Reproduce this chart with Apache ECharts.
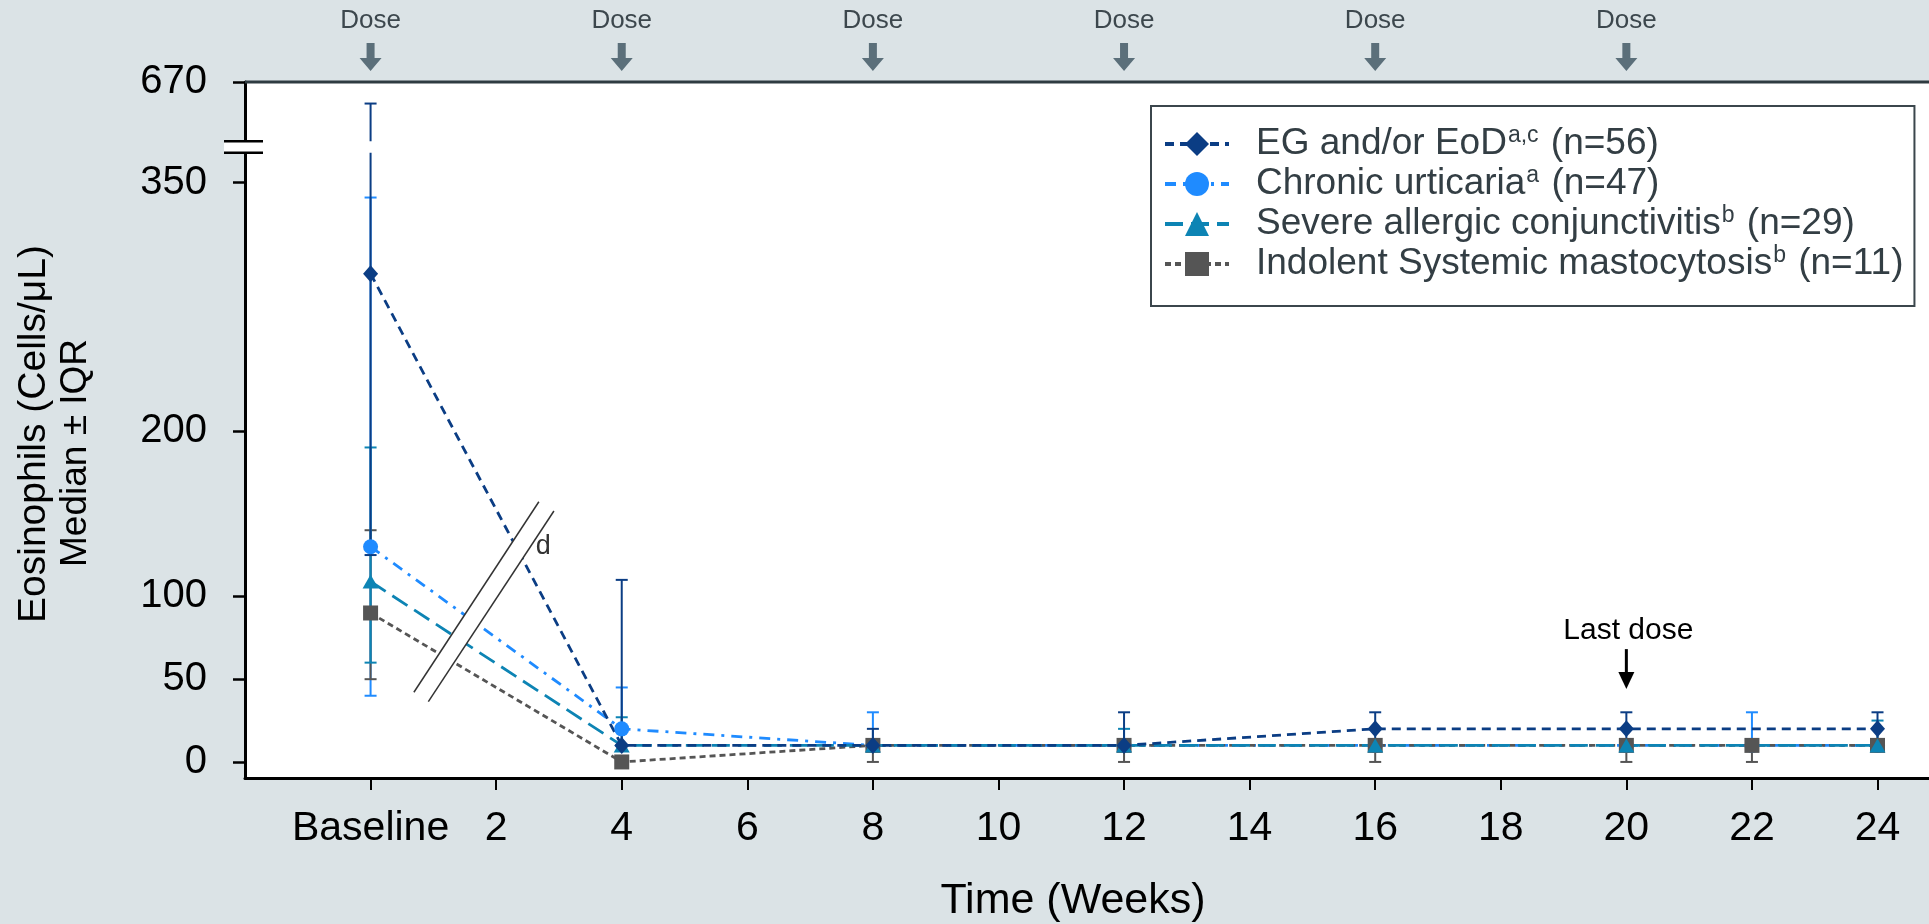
<!DOCTYPE html>
<html>
<head>
<meta charset="utf-8">
<script src="https://cdn.jsdelivr.net/npm/echarts@6/dist/echarts.min.js"></script>
<style>
  html, body { margin: 0; padding: 0; background: #dbe3e6; }
  #container { width: 1929px; height: 924px; }
</style>
</head>
<body>
<div id="container"></div>
<script>
// groups (legend order)
const groupNames = ['EG and/or EoD', 'Chronic urticaria', 'Severe allergic conjunctivitis', 'Indolent Systemic mastocytosis']
const groupSup = ['a,c', 'a', 'b', 'b']
const groupN = [56, 47, 29, 11]

// weeks with measurements, median, Q1, Q3 (cells/uL)
const weeksEG = [0, 4, 8, 12, 16, 20, 24]
const medEG = [295, 10, 10, 10, 20, 20, 20]
const q1EG = [125, 10, 10, 10, 10, 10, 10]
const q3EG = [630, 110, 20, 30, 30, 30, 30]

const weeksCU = [0, 4, 8, 12, 16, 20, 22, 24]
const medCU = [130, 20, 10, 10, 10, 10, 10, 10]
const q1CU = [40, 10, 10, 10, 10, 10, 10, 10]
const q3CU = [341, 45, 30, 10, 10, 10, 30, 10]

const weeksSAC = [0, 4, 8, 12, 16, 20, 24]
const medSAC = [109, 10, 10, 10, 10, 10, 10]
const q1SAC = [60, 10, 10, 10, 10, 10, 10]
const q3SAC = [190, 27, 10, 20, 10, 10, 25]

const weeksISM = [0, 4, 8, 12, 16, 20, 22, 24]
const medISM = [90, 0, 10, 10, 10, 10, 10, 10]
const q1ISM = [50, 0, 0, 0, 0, 0, 0, 10]
const q3ISM = [140, 0, 10, 10, 10, 10, 10, 10]

// axis ticks
const xTicks = [0, 2, 4, 6, 8, 10, 12, 14, 16, 18, 20, 22, 24]
const yTicks = [0, 50, 100, 200, 350, 670]
const doseWeeks = [0, 4, 8, 12, 16, 20]
const lastDoseWeek = 20

const FONT = "'Liberation Sans', Arial, sans-serif"

// broken y axis: linear up to BREAK_LO, compressed upper part 560-670
const BREAK_LO = 368
const BREAK_HI = 375
const UP_FROM = 560
const UP_TO = 670
const UP_SPAN = 35.8
function ty (v) {
  return v <= BREAK_LO ? v : BREAK_HI + (v - UP_FROM) * UP_SPAN / (UP_TO - UP_FROM)
}
function untY (t) {
  return t <= BREAK_LO ? t : Math.round(UP_FROM + (t - BREAK_HI) * (UP_TO - UP_FROM) / UP_SPAN)
}
const Y_MIN = -9.7
const Y_MAX = ty(UP_TO)
const X_MIN = -2
const X_MAX = 24.82

const colors = ['#0b3d84', '#1f8bff', '#0d84b4', '#555555']
const dashes = [[9, 6], [11, 7, 3, 7], [18, 8], [6, 4]]
const symbols = ['diamond', 'circle', 'triangle', 'rect']
const symbolSizes = [[15, 17], 15, [16, 14], 15]

const groups = [
  { weeks: weeksEG, med: medEG, q1: q1EG, q3: q3EG },
  { weeks: weeksCU, med: medCU, q1: q1CU, q3: q3CU },
  { weeks: weeksSAC, med: medSAC, q1: q1SAC, q3: q3SAC },
  { weeks: weeksISM, med: medISM, q1: q1ISM, q3: q3ISM }
]
// drawing order bottom -> top: CU, ISM, SAC, EG
const drawOrder = [1, 3, 2, 0]

function errorBarSeries (gi) {
  const g = groups[gi]
  return {
    type: 'custom',
    name: groupNames[gi] + ' IQR',
    z: 2,
    data: g.weeks.map((w, i) => [w, ty(g.q1[i]), ty(g.q3[i])]),
    encode: { x: 0, y: [1, 2] },
    renderItem: (params, api) => {
      const x = api.value(0)
      const lo = api.value(1)
      const hi = api.value(2)
      const segs = (hi > BREAK_HI && lo < BREAK_LO) ? [[lo, BREAK_LO], [BREAK_HI, hi]] : [[lo, hi]]
      const style = { stroke: colors[gi], lineWidth: 2 }
      const children = segs.map(s => {
        const a = api.coord([x, s[0]])
        const b = api.coord([x, s[1]])
        return { type: 'line', shape: { x1: a[0], y1: a[1], x2: b[0], y2: b[1] }, style }
      })
      ;[lo, hi].forEach(v => {
        const p = api.coord([x, v])
        children.push({ type: 'line', shape: { x1: p[0] - 6, y1: p[1], x2: p[0] + 6, y2: p[1] }, style })
      })
      return { type: 'group', children }
    }
  }
}

function lineSeries (gi) {
  const g = groups[gi]
  return {
    type: 'line',
    name: groupNames[gi],
    z: 3,
    data: g.weeks.map((w, i) => [w, ty(g.med[i])]),
    symbol: symbols[gi],
    symbolSize: symbolSizes[gi],
    showAllSymbol: true,
    color: colors[gi],
    itemStyle: { color: colors[gi] },
    lineStyle: { color: colors[gi], width: 2.8, type: dashes[gi] }
  }
}

const option = {
  backgroundColor: '#dbe3e6',
  animation: false,
  textStyle: { fontFamily: FONT },
  grid: {
    left: 245, right: 0, top: 82, bottom: 146,
    show: true, backgroundColor: '#ffffff', borderWidth: 0,
    outerBoundsMode: 'none'
  },
  legend: {
    data: groupNames,
    orient: 'vertical',
    left: 1151,
    top: 106,
    padding: [18, 11, 22, 12],
    itemGap: 0,
    itemWidth: 64,
    itemHeight: 30,
    borderColor: '#3b464c',
    borderWidth: 2,
    backgroundColor: '#ffffff',
    lineStyle: { width: 4 },
    textStyle: {
      fontFamily: FONT, fontSize: 37, color: '#333e44', lineHeight: 40,
      padding: [0, 0, 0, 22],
      rich: {
        t: { fontFamily: FONT, fontSize: 37, color: '#333e44', lineHeight: 40 },
        s: { fontFamily: FONT, fontSize: 23, color: '#333e44', verticalAlign: 'top', lineHeight: 40, padding: [0, 2, 0, 1] }
      }
    },
    formatter: name => {
      const i = groupNames.indexOf(name)
      return '{t|' + name + '}{s|' + groupSup[i] + '}{t| (n=' + groupN[i] + ')}'
    }
  },
  xAxis: {
    type: 'value',
    min: X_MIN,
    max: X_MAX,
    axisLine: { show: true, onZero: false, lineStyle: { color: '#000', width: 3 } },
    axisTick: { show: true, length: 12, lineStyle: { color: '#000', width: 2 }, customValues: xTicks },
    axisLabel: {
      show: true, customValues: xTicks, fontSize: 41, color: '#000', margin: 30, fontFamily: FONT,
      formatter: v => (v === 0 ? 'Baseline' : String(v))
    },
    splitLine: { show: false }
  },
  yAxis: {
    type: 'value',
    min: Y_MIN,
    max: Y_MAX,
    axisLine: { show: true, onZero: false, lineStyle: { color: '#000', width: 3 } },
    axisTick: { show: true, length: 12, lineStyle: { color: '#000', width: 2.5 }, customValues: yTicks.map(ty) },
    axisLabel: {
      show: true, customValues: yTicks.map(ty), fontSize: 40, color: '#000', margin: 38, fontFamily: FONT,
      formatter: v => String(untY(v))
    },
    splitLine: { show: false }
  },
  series: drawOrder.map(errorBarSeries).concat(drawOrder.map(lineSeries))
}

const dom = document.getElementById('container')
const myChart = echarts.init(dom)
myChart.setOption(option)

// annotations anchored to data coordinates
const px = (x, y) => myChart.convertToPixel({ xAxisIndex: 0, yAxisIndex: 0 }, [x, y])
const topLeft = px(X_MIN, Y_MAX)
const topRight = px(X_MAX, Y_MAX)
const plotTop = topLeft[1]
const graphic = []

// top border
graphic.push({ type: 'line', z: 50, shape: { x1: topLeft[0], y1: plotTop, x2: topRight[0] + 2, y2: plotTop }, style: { stroke: '#2e3b41', lineWidth: 3 } })

// y axis break
const yb1 = px(X_MIN, BREAK_LO)[1]
const yb2 = px(X_MIN, BREAK_HI)[1]
const ax = topLeft[0]
graphic.push({ type: 'rect', z: 100, shape: { x: ax - 21, y: yb2, width: 39, height: yb1 - yb2 }, style: { fill: '#ffffff' } })
graphic.push({ type: 'line', z: 101, shape: { x1: ax - 21, y1: yb2, x2: ax + 18, y2: yb2 }, style: { stroke: '#000', lineWidth: 2.5 } })
graphic.push({ type: 'line', z: 101, shape: { x1: ax - 21, y1: yb1, x2: ax + 18, y2: yb1 }, style: { stroke: '#000', lineWidth: 2.5 } })

// x break between baseline and week 4
const brkA1 = px(0.69, 42.1)
const brkA2 = px(2.68, 157.2)
const brkB1 = px(0.92, 36.4)
const brkB2 = px(2.92, 151.6)
graphic.push({ type: 'polygon', z: 100, shape: { points: [brkA1, brkA2, brkB2, brkB1] }, style: { fill: '#ffffff' } })
graphic.push({ type: 'line', z: 101, shape: { x1: brkA1[0], y1: brkA1[1], x2: brkA2[0], y2: brkA2[1] }, style: { stroke: '#333', lineWidth: 1.5 } })
graphic.push({ type: 'line', z: 101, shape: { x1: brkB1[0], y1: brkB1[1], x2: brkB2[0], y2: brkB2[1] }, style: { stroke: '#333', lineWidth: 1.5 } })
const dPos = px(2.75, 130)
graphic.push({ type: 'text', z: 101, x: dPos[0], y: dPos[1], style: { text: 'd', fontFamily: FONT, fontSize: 27, fill: '#333', align: 'center', verticalAlign: 'middle' } })

// dose markers
doseWeeks.forEach(w => {
  const x = px(w, 0)[0]
  graphic.push({ type: 'text', x: x, y: 21, style: { text: 'Dose', fontFamily: FONT, fontSize: 26, fill: '#3c474d', align: 'center', verticalAlign: 'middle' } })
  const t = plotTop - 11
  graphic.push({
    type: 'polygon',
    shape: { points: [[x - 4, t - 28], [x + 4, t - 28], [x + 4, t - 13], [x + 11, t - 13], [x, t], [x - 11, t - 13], [x - 4, t - 13]] },
    style: { fill: '#5b6f7a' }
  })
})

// last dose
const ld = px(lastDoseWeek, 44)
graphic.push({ type: 'text', z: 60, x: ld[0] + 2, y: ld[1] - 58, style: { text: 'Last dose', fontFamily: FONT, fontSize: 30, fill: '#000', align: 'center', verticalAlign: 'middle' } })
graphic.push({ type: 'line', z: 60, shape: { x1: ld[0], y1: ld[1] - 40, x2: ld[0], y2: ld[1] - 12 }, style: { stroke: '#000', lineWidth: 3 } })
graphic.push({ type: 'polygon', z: 60, shape: { points: [[ld[0] - 8, ld[1] - 17], [ld[0] + 8, ld[1] - 17], [ld[0], ld[1]]] }, style: { fill: '#000' } })

// axis titles
graphic.push({ type: 'text', x: 34, y: 434, rotation: Math.PI / 2, style: { text: 'Eosinophils (Cells/μL)', fontFamily: FONT, fontSize: 39, fill: '#000', align: 'center', verticalAlign: 'middle' } })
graphic.push({ type: 'text', x: 76, y: 453, rotation: Math.PI / 2, style: { text: 'Median ± IQR', fontFamily: FONT, fontSize: 37, fill: '#000', align: 'center', verticalAlign: 'middle' } })
graphic.push({ type: 'text', x: 1073, y: 901, style: { text: 'Time (Weeks)', fontFamily: FONT, fontSize: 43, fill: '#000', align: 'center', verticalAlign: 'middle' } })

myChart.setOption({ graphic })
</script>
</body>
</html>
